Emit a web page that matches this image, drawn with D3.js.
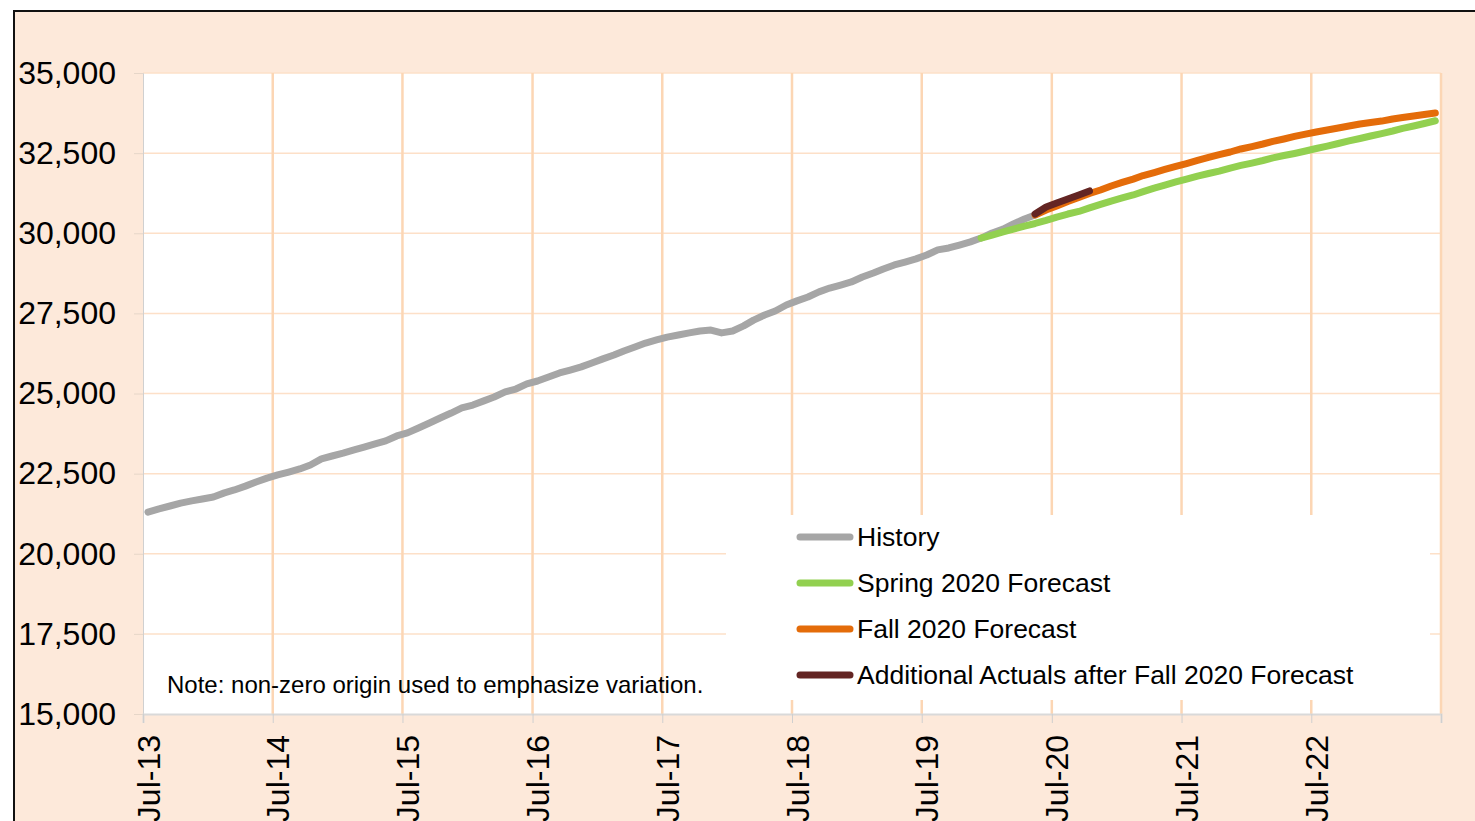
<!DOCTYPE html>
<html>
<head>
<meta charset="utf-8">
<script src="https://cdn.jsdelivr.net/npm/d3@7"></script>
<style>
  body { margin: 0; background: #fff; }
  svg { display: block; font-family: "Liberation Sans", Arial, sans-serif; }
</style>
</head>
<body>
<svg id="chart"></svg>
<script>
// monthly series, each one starts at its own first month
const historyStart = "2013-07";
const historyValues = [
  21300, 21400, 21490, 21580, 21650, 21710, 21770, 21900, 21990, 22110, 22240, 22360,
  22460, 22550, 22645, 22770, 22960, 23050, 23140, 23240, 23330, 23425, 23520, 23675,
  23770, 23925, 24080, 24235, 24390, 24550, 24640, 24770, 24890, 25050, 25140, 25300,
  25390, 25515, 25640, 25730, 25830, 25950, 26080, 26200, 26325, 26450, 26575, 26670,
  26760, 26825, 26890, 26950, 26980, 26890, 26950, 27110, 27290, 27450, 27575, 27760,
  27890, 28010, 28170, 28290, 28385, 28480, 28635, 28760, 28885, 29010, 29100, 29200,
  29320, 29480, 29540, 29630, 29730, 29850, 30010, 30130, 30290, 30445, 30570
];

const springStart = "2019-12";
const springValues = [
  29850, 29945, 30040, 30130, 30225, 30305, 30400, 30505, 30600, 30680, 30790, 30900,
  31005, 31100, 31195, 31300, 31410, 31505, 31600, 31690, 31785, 31865, 31940, 32035,
  32115, 32190, 32270, 32350, 32425, 32490, 32565, 32645, 32720, 32800, 32880, 32955,
  33035, 33110, 33190, 33270, 33345, 33425, 33510
];

const fallStart = "2020-05";
const fallValues = [
  30570, 30725, 30850, 30990, 31115, 31240, 31350, 31475, 31585, 31690, 31800, 31895,
  31990, 32085, 32175, 32270, 32365, 32455, 32535, 32630, 32705, 32785, 32865, 32940,
  33020, 33095, 33160, 33220, 33285, 33345, 33410, 33455, 33500, 33565, 33610, 33660,
  33705, 33750
];

const actualsStart = "2020-05";
const actualsValues = [30600, 30820, 30945, 31070, 31195, 31320];

const seriesNames = ["History", "Spring 2020 Forecast", "Fall 2020 Forecast", "Additional Actuals after Fall 2020 Forecast"];
const seriesColors = ["#a6a6a6", "#92d050", "#e46c0a", "#632523"];

const yTicks = [15000, 17500, 20000, 22500, 25000, 27500, 30000, 32500, 35000];
const xTickYears = [2013, 2014, 2015, 2016, 2017, 2018, 2019, 2020, 2021, 2022, 2023];
const xTickLabels = ["Jul-13", "Jul-14", "Jul-15", "Jul-16", "Jul-17", "Jul-18", "Jul-19", "Jul-20", "Jul-21", "Jul-22", ""];

const noteText = "Note: non-zero origin used to emphasize variation.";

document.addEventListener('DOMContentLoaded', function () {
    const W = 1475, H = 821;
    const plot = { left: 143, right: 1441, top: 73, bottom: 714 };

    const svg = d3.select('#chart')
        .attr("width", W)
        .attr("height", H);

    // outer chart area with black frame
    svg.append("rect")
        .attr("x", 14).attr("y", 11)
        .attr("width", W).attr("height", H)
        .attr("fill", "#fde9da")
        .attr("stroke", "#111")
        .attr("stroke-width", 2);

    const x = d3.scaleTime()
        .domain([new Date(2013, 6, 1), new Date(2023, 6, 1)])
        .range([plot.left, plot.right]);

    const y = d3.scaleLinear()
        .domain([15000, 35000])
        .range([plot.bottom, plot.top]);

    const parseMonth = d3.timeParse("%Y-%m");
    // points sit in the middle of their month
    function toPoints(start, values) {
        const s = parseMonth(start);
        return values.map((v, i) => ({ date: d3.timeDay.offset(d3.timeMonth.offset(s, i), 14), value: v }));
    }

    // plot area
    svg.append("rect")
        .attr("x", plot.left).attr("y", plot.top)
        .attr("width", plot.right - plot.left)
        .attr("height", plot.bottom - plot.top)
        .attr("fill", "#fff");

    const xTickDates = xTickYears.map(yr => new Date(yr, 6, 1));

    // gridlines
    svg.append("g")
        .selectAll("line")
        .data(yTicks.slice(1))
        .join("line")
        .attr("x1", plot.left).attr("x2", plot.right)
        .attr("y1", d => y(d)).attr("y2", d => y(d))
        .attr("stroke", "#fde0c8")
        .attr("stroke-width", 1.5);

    svg.append("g")
        .selectAll("line")
        .data(xTickDates.slice(1))
        .join("line")
        .attr("x1", d => x(d)).attr("x2", d => x(d))
        .attr("y1", plot.top).attr("y2", plot.bottom)
        .attr("stroke", "#fcd6b4")
        .attr("stroke-width", 2.5);

    // legend box covers the grid
    svg.append("rect")
        .attr("x", 726).attr("y", 515)
        .attr("width", 1430 - 726).attr("height", 700 - 515)
        .attr("fill", "#fff");

    // Y axis
    const yAxis = svg.append("g")
        .attr("transform", `translate(${plot.left},0)`)
        .call(d3.axisLeft(y)
            .tickValues(yTicks)
            .tickSize(9)
            .tickPadding(18)
            .tickFormat(d3.format(","))
        );
    yAxis.select(".domain").attr("stroke", "#d0d0d0");
    yAxis.selectAll(".tick line").attr("stroke", "#e6d6c8");
    yAxis.selectAll("text")
        .style("font-size", "32px")
        .style("fill", "black");

    // X axis
    const xAxis = svg.append("g")
        .attr("transform", `translate(0,${plot.bottom})`)
        .call(d3.axisBottom(x)
            .tickValues(xTickDates)
            .tickSize(9)
            .tickFormat((d, i) => xTickLabels[i])
        );
    xAxis.select(".domain").attr("stroke", "#d9d9d9").attr("stroke-width", 2);
    xAxis.selectAll(".tick line").attr("stroke", "#cfcfcf");
    xAxis.selectAll("text")
        .attr("transform", "rotate(-90)")
        .attr("x", -21)
        .attr("y", 16)
        .attr("dy", 0)
        .style("text-anchor", "end")
        .style("font-size", "32px")
        .style("fill", "black");

    // series lines
    const line = d3.line()
        .x(d => x(d.date))
        .y(d => y(d.value));

    const series = [
        toPoints(historyStart, historyValues),
        toPoints(springStart, springValues),
        toPoints(fallStart, fallValues),
        toPoints(actualsStart, actualsValues)
    ];

    svg.append("g")
        .selectAll("path")
        .data(series)
        .join("path")
        .attr("d", line)
        .attr("fill", "none")
        .attr("stroke", (d, i) => seriesColors[i])
        .attr("stroke-width", 7)
        .attr("stroke-linecap", "round")
        .attr("stroke-linejoin", "round");

    // legend
    const legend = svg.append("g");
    const rows = legend.selectAll("g")
        .data(seriesNames)
        .join("g")
        .attr("transform", (d, i) => `translate(0,${537 + i * 46})`);

    rows.append("line")
        .attr("x1", 800).attr("x2", 850)
        .attr("stroke", (d, i) => seriesColors[i])
        .attr("stroke-width", 7)
        .attr("stroke-linecap", "round");

    rows.append("text")
        .attr("x", 857)
        .attr("y", 9)
        .text(d => d)
        .style("font-size", "26.5px")
        .style("fill", "black");

    // note
    svg.append("text")
        .attr("x", 167)
        .attr("y", 693)
        .text(noteText)
        .style("font-size", "24px")
        .style("fill", "black");
});
</script>
</body>
</html>
